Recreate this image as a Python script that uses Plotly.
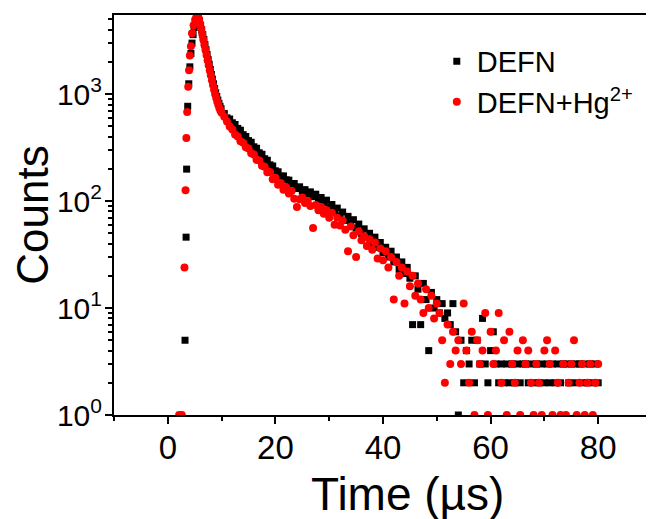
import plotly.graph_objects as go

# ---------------- data ----------------
series_names = ["DEFN", "DEFN+Hg<sup>2+</sup>"]

# DEFN (black squares)
defn_time = [
    3.2, 3.4, 3.5, 3.7, 3.9, 4.1, 4.3, 4.5, 4.7, 4.9, 5.1, 5.3, 5.5,
    5.7, 5.9, 6.1, 6.3, 6.5, 6.7, 6.9, 7.1, 7.3, 7.5, 7.7, 7.9, 8.1, 8.3, 8.5, 8.7, 8.9,
    9.1, 9.3, 9.5, 9.7, 9.9,
    10.5, 11.0, 11.5, 12.0, 12.5, 13.0, 13.5, 14.0, 14.5, 15.0, 15.5, 16.0, 16.5, 17.0,
    17.5, 18.0, 18.5, 19.0, 19.5, 20.0,
    20.5, 21.0, 21.5, 22.0, 22.5, 23.0, 23.5, 24.0, 24.5, 25.0, 25.5, 26.0, 26.5, 27.0,
    27.5, 28.0, 28.5, 29.0, 29.5, 30.0,
    30.5, 31.0, 31.5, 32.0, 32.5, 33.0, 33.5, 34.0, 34.5, 35.0, 35.5, 36.0, 36.5, 37.0,
    37.5, 38.0, 38.5, 39.0, 39.5, 40.0,
    40.5, 41.0, 41.5, 42.0, 42.5, 43.0, 43.5, 44.0, 44.5, 45.0, 45.5, 46.0, 46.5, 47.0,
    47.5, 48.0, 48.5, 49.0, 49.5, 50.0,
    50.5, 51.0, 51.5, 52.0, 52.5, 53.0, 53.5, 54.0, 54.5, 55.0, 55.5, 56.0, 56.5, 57.0,
    57.5, 58.0, 58.5, 59.0, 59.5, 60.0,
    60.5, 61.0, 61.5, 62.0, 62.5, 63.0, 63.5, 64.0, 64.5, 65.0, 65.5, 66.0, 66.5, 67.0,
    67.5, 68.0, 68.5, 69.0, 69.5, 70.0,
    70.5, 71.0, 71.5, 72.0, 72.5, 73.0, 73.5, 74.0, 74.5, 75.0, 75.5, 76.0, 76.5, 77.0,
    77.5, 78.0, 78.5, 79.0, 79.5, 80.0,
]
defn_counts = [
    5, 46, 199, 770, 1250, 1800, 2400, 3000, 3600, 4200, 4700, 5100, 5300,
    5200, 4850, 4400, 4000, 3600, 3250, 2900, 2600, 2350, 2100, 1900, 1700, 1530, 1380, 1250, 1130, 1030,
    950, 880, 820, 770, 730,
    660, 600, 585, 540, 520, 478, 460, 418, 402, 368, 355, 322, 312, 283,
    274, 249, 241, 218, 213, 192,
    188, 171, 172, 158, 157, 144, 146, 131, 136, 124, 128, 117, 122, 110,
    116, 103, 108, 97, 102, 88,
    93, 80, 86, 73, 79, 66, 72, 62, 67, 56, 61, 50, 55, 46,
    50, 41, 46, 37, 41, 33,
    37, 30, 34, 27, 30, 23, 27, 21, 24, 19, 7, 20, 15, 7,
    17, 12, 4, 14, 10, 12,
    9, 11, 8, 9, 7, 11, 6, 1, 5, 2, 4, 3, 5, 2,
    5, 3, 8, 3, 2, 4,
    6, 3, 2, 3, 2, 3, 2, 3, 2, 3, 2, 3, 3, 2,
    3, 2, 3, 2, 3, 2,
    3, 2, 3, 2, 3, 2, 3, 3, 2, 3, 2, 3, 3, 2,
    3, 2, 3, 2, 3, 2,
]

# DEFN + Hg2+ (red circles)
hg_time = [
    2.1, 2.6, 3.1, 3.3, 3.45, 3.6, 3.8, 3.95, 4.1, 4.3, 4.5, 4.8, 5.1, 5.4,
    5.6, 5.8, 6.0, 6.2, 6.4, 6.6, 6.8, 7.0, 7.2, 7.4, 7.6, 7.8, 8.0, 8.2, 8.4, 8.6,
    8.8, 9.0, 9.2, 9.4, 9.6, 9.8,
    10.0, 10.5, 11.0, 11.5, 12.0, 12.5, 13.0, 13.5, 14.0, 14.5, 15.0, 15.5, 16.0, 16.5,
    17.0, 17.5, 18.0, 18.5, 19.0, 19.5,
    20.0, 20.5, 21.0, 21.5, 22.0, 22.5, 23.0, 23.5, 24.0, 24.5, 25.0, 25.5, 26.0, 26.5,
    27.0, 27.5, 28.0, 28.5, 29.0, 29.5,
    30.0, 30.5, 31.0, 31.5, 32.0, 32.5, 33.0, 33.5, 34.0, 34.5, 35.0, 35.5, 36.0, 36.5,
    37.0, 37.5, 38.0, 38.5, 39.0, 39.5,
    40.0, 40.5, 41.0, 41.5, 42.0, 42.5, 43.0, 43.5, 44.0, 44.5, 45.0, 45.5, 46.0, 46.5,
    47.0, 47.5, 48.0, 48.5, 49.0, 49.5, 50.0,
    50.5, 51.0, 51.5, 52.0, 52.5, 53.0, 53.5, 54.0, 54.5, 55.0, 55.5, 56.0, 56.5, 57.0,
    57.5, 58.0, 58.5, 59.0, 59.5, 60.0,
    60.5, 61.0, 61.5, 62.0, 62.5, 63.0, 63.5, 64.0, 64.5, 65.0, 65.5, 66.0, 66.5, 67.0,
    67.5, 68.0, 68.5, 69.0, 69.5, 70.0,
    70.5, 71.0, 71.5, 72.0, 72.5, 73.0, 73.5, 74.0, 74.5, 75.0, 75.5, 76.0, 76.5, 77.0,
    77.5, 78.0, 78.5, 79.0, 79.5, 80.0,
]
hg_counts = [
    1, 1, 24, 126, 390, 680, 1170, 1670, 2300, 2800, 3700, 4400, 5000, 5300,
    5350, 5050, 4550, 4100, 3650, 3250, 2900, 2600, 2320, 2080, 1860, 1660, 1500, 1350, 1220, 1100,
    1000, 920, 850, 790, 740, 700,
    670, 615, 555, 498, 468, 420, 402, 362, 352, 318, 310, 280, 272, 243,
    240, 214, 210, 186, 187, 160,
    165, 142, 147, 128, 134, 118, 124, 105, 88, 104, 108, 96, 100, 90,
    56, 92, 82, 88, 76, 82,
    70, 78, 60, 70, 59, 66, 54, 34, 58, 48, 30, 52, 43, 47,
    38, 44, 35, 41, 29, 36,
    28, 34, 24, 30, 12, 27, 20, 24, 11, 22, 16, 20, 13, 17,
    12, 9, 15, 10, 13, 8, 11,
    9, 5, 2, 7, 3, 6, 4, 5, 3, 11, 4, 2, 6, 1,
    5, 3, 4, 9, 1, 6,
    3, 4, 9, 2, 5, 1, 6, 3, 2, 4, 1, 5, 3, 4,
    2, 1, 3, 2, 1, 4,
    5, 3, 1, 4, 2, 1, 3, 1, 2, 3, 5, 1, 2, 3,
    1, 2, 3, 1, 2, 3,
]

x_tick_vals = [0, 20, 40, 60, 80]
x_minor_vals = [-10, 10, 30, 50, 70, 90]
y_tick_vals = [1, 10, 100, 1000]
y_tick_text = ["10<sup>0</sup>", "10<sup>1</sup>", "10<sup>2</sup>", "10<sup>3</sup>"]

FONT = "Liberation Sans, Arial, sans-serif"

fig = go.Figure()
fig.add_trace(go.Scatter(
    x=defn_time, y=defn_counts, mode="markers", name=series_names[0],
    marker=dict(symbol="square", size=7, color="black", line=dict(width=0)),
))
fig.add_trace(go.Scatter(
    x=hg_time, y=hg_counts, mode="markers", name=series_names[1],
    marker=dict(symbol="circle", size=8, color="#ff0000", line=dict(width=0)),
))

y_minor = [m * 10 ** e for e in range(0, 4) for m in range(2, 10) if m * 10 ** e < 5600]

# page body has an 8px margin: figure is 646x511 so that it fills the 654x519 window
fig.update_layout(
    width=646, height=511,
    margin=dict(l=104, r=2, t=7, b=104),
    paper_bgcolor="white", plot_bgcolor="white",
    font=dict(family=FONT, color="black"),
    showlegend=True,
    legend=dict(
        x=0.6, y=0.948, xanchor="left", yanchor="top",
        font=dict(size=29, family=FONT, color="black"),
        bgcolor="rgba(0,0,0,0)", borderwidth=0,
        itemwidth=30, tracegroupgap=0,
    ),
    xaxis=dict(
        range=[-10, 90], tickmode="array", tickvals=x_tick_vals,
        ticks="outside", ticklen=7, tickwidth=2, tickcolor="black",
        showline=True, linewidth=2, linecolor="black", mirror=True,
        showgrid=False, zeroline=False,
        tickfont=dict(size=33, family=FONT, color="black"),
        minor=dict(tickmode="array", tickvals=x_minor_vals, ticks="outside",
                   ticklen=4, tickwidth=2, tickcolor="black", showgrid=False),
    ),
    yaxis=dict(
        type="log", range=[0, 3.74], tickmode="array",
        tickvals=y_tick_vals, ticktext=y_tick_text,
        ticks="outside", ticklen=7, tickwidth=2, tickcolor="black",
        showline=True, linewidth=2, linecolor="black", mirror=False,
        showgrid=False, zeroline=False,
        tickfont=dict(size=30, family=FONT, color="black"),
        minor=dict(tickmode="array", tickvals=y_minor, ticks="outside",
                   ticklen=4, tickwidth=2, tickcolor="black", showgrid=False),
        title=dict(text="Counts", font=dict(size=44, family=FONT, color="black"), standoff=16),
    ),
    annotations=[dict(
        text="Time (\u00b5s)", xref="paper", yref="paper",
        x=0.545, y=-0.1975, xanchor="center", yanchor="middle", showarrow=False,
        font=dict(size=46, family=FONT, color="black"),
    )],
)

try:
    fig.update_xaxes(ticklabelstandoff=-5)
    fig.update_yaxes(ticklabelstandoff=-3)
except Exception:
    pass

fig.write_html("out.html")
